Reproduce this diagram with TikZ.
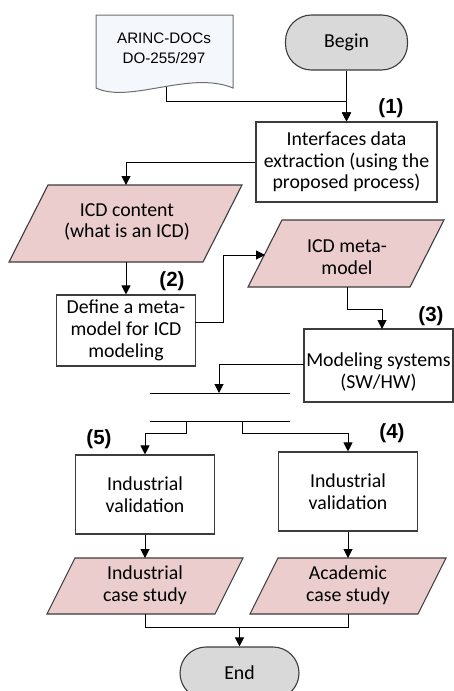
\documentclass[tikz,border=0pt]{standalone}
\usepackage{fontspec}
\setmainfont{Carlito}
\newfontfamily\arialf{Liberation Sans}
\usetikzlibrary{arrows.meta,calc}
\definecolor{pinkf}{RGB}{236,205,205}
\definecolor{grayf}{RGB}{217,217,217}
\definecolor{docf}{RGB}{244,247,251}
\definecolor{docb}{RGB}{110,110,110}
\definecolor{bord}{RGB}{60,60,60}
\begin{document}
\begin{tikzpicture}[x=1pt,y=-1pt,
  box/.style={draw=bord, line width=1.1pt, fill=white, align=center, inner sep=0pt, font=\fontsize{19.8}{21.7}\selectfont},
  term/.style={box, fill=grayf, rounded corners=26pt},
  para/.style={draw=bord, line width=1.1pt, fill=pinkf},
  txt/.style={align=center, inner sep=0pt, font=\fontsize{19.8}{21.7}\selectfont},
  num/.style={font=\arialf\bfseries\fontsize{20.5}{20.5}\selectfont, inner sep=0pt},
  arr/.style={draw=black, line width=1pt, -{Triangle[width=9pt,length=9pt]}},
  ln/.style={draw=black, line width=1pt}]
\useasboundingbox (0,0) rectangle (454,691);

% document shape
\draw[draw=docb, fill=docf, line width=1pt] (96,15) -- (233,15) -- (233,88)
  .. controls (190,70) and (130,104) .. (96,88) -- cycle;
\node[align=center, inner sep=0pt, font=\arialf\fontsize{15.2}{19.5}\selectfont] (doct) at (164,48.5) {ARINC-DOCs\\DO-255/297};
\coordinate (docout) at (166,87);

% terminators and boxes
\node[term, minimum width=122pt, minimum height=55pt] (begin) at (346.5,42.5) {Begin};
\node[box, minimum width=181pt, minimum height=80pt] (box1) at (346.5,162) {Interfaces data\\extraction (using the\\proposed process)};
\node[box, minimum width=139pt, minimum height=71pt] (box2) at (126,330.5) {Define a meta-\\model for ICD\\modeling};
\node[box, minimum width=149pt, minimum height=73pt] (box3) at (378.5,365.5) {};
\node[txt] (box3t) at (378.5,372) {Modeling systems\\(SW/HW)};
\node[box, minimum width=139pt, minimum height=79pt] (box5) at (145,494.5) {Industrial\\validation};
\node[box, minimum width=139pt, minimum height=79pt] (box4) at (348,491.5) {Industrial\\validation};
\node[term, minimum width=119pt, minimum height=52pt] (end) at (239.5,673) {End};

% parallelograms
\draw[para] (48,185) -- (242,185) -- (203,262) -- (9,262) -- cycle;
\node[txt] (p1t) at (127,222) {ICD content\\(what is an ICD)};
\draw[para] (282,220) -- (444,220) -- (410,287) -- (248,287) -- cycle;
\node[txt] (p2t) at (347,257) {ICD meta-\\model};
\draw[para] (75,558) -- (243,558) -- (215,614) -- (47,614) -- cycle;
\node[txt] (p3t) at (145,585.5) {Industrial\\case study};
\draw[para] (278,558) -- (446,558) -- (418,614) -- (250,614) -- cycle;
\node[txt] (p4t) at (348,585.5) {Academic\\case study};

% step labels
\node[num] (n1) at (391,108) {(1)};
\node[num] (n2) at (172,281) {(2)};
\node[num] (n3) at (431,316) {(3)};
\node[num] (n4) at (392,433) {(4)};
\node[num] (n5) at (99,439) {(5)};

% coordinates
\coordinate (j1) at (346.5,101);
\coordinate (p1top) at (126,185);
\coordinate (p1bot) at (126,262);
\coordinate (b2out) at (195,322);
\coordinate (p2in) at (265,255);
\coordinate (p2bot) at (347,287);
\coordinate (b3in) at (382,329);
\coordinate (b3out) at (304,364);
\coordinate (bar1in) at (219,393);
\coordinate (barAL) at (150,393);
\coordinate (barAR) at (290,393);
\coordinate (barBL) at (150,421.7);
\coordinate (barBR) at (290,421.7);
\coordinate (forkL) at (186,421.7);
\coordinate (forkR) at (242,421.7);
\coordinate (p3top) at (145,558);
\coordinate (p4top) at (348,558);
\coordinate (p3bot) at (145,614);
\coordinate (p4bot) at (348,614);
\coordinate (mrg) at (239.5,627);

% connectors
\draw[arr] (docout) |- (j1) -- (box1.north);
\draw[arr] (begin.south) -- (box1.north);
\draw[arr] (box1.west) -| (p1top);
\draw[arr] (p1bot) -- (box2.north);
\draw[arr] (b2out) -- ++(28,0) |- (p2in);
\draw[arr] (p2bot) -- ++(0,22) -| (b3in);
\draw[arr] (b3out) -| (bar1in);
\draw[ln] (barAL) -- (barAR);
\draw[ln] (barBL) -- (barBR);
\draw[arr] (forkL) -- ++(0,11.3) -| (box5.north);
\draw[arr] (forkR) -- ++(0,11.3) -| (box4.north);
\draw[arr] (box5.south) -- (p3top);
\draw[arr] (box4.south) -- (p4top);
\draw[ln] (p3bot) |- (mrg);
\draw[ln] (p4bot) |- (mrg);
\draw[arr] (mrg) -- (end.north);
\end{tikzpicture}
\end{document}
